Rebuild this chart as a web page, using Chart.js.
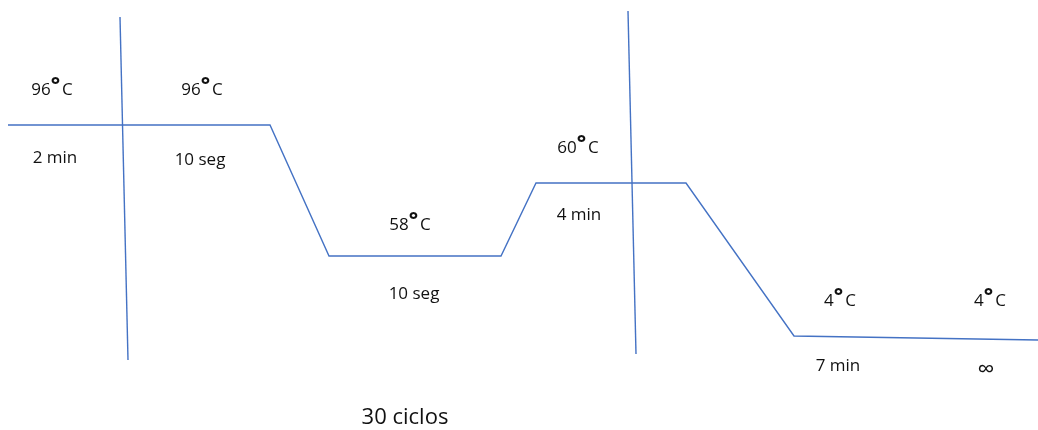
<!DOCTYPE html>
<html lang="es">
<head>
  <meta charset="UTF-8" />
  <title>Perfil de temperatura PCR</title>
  <script src="https://cdn.jsdelivr.net/npm/chart.js"></script>
  <style>
    html, body { margin: 0; padding: 0; background: #fff; }
    canvas { display: block; }
  </style>
</head>
<body>
  <canvas id="pcrChart" width="1038" height="430"></canvas>

  <script>
    // diagram coordinates (x across, y down)
    const profileX = [8, 270, 329, 501, 536, 686, 794, 1038];
    const profileY = [125, 125, 256, 256, 183, 183, 336, 340];

    const cycleStartX = [120, 128];
    const cycleStartY = [17, 360];
    const cycleEndX = [628, 636];
    const cycleEndY = [11, 354];

    const labelText = ["96°C", "96°C", "2 min", "10 seg", "58°C", "10 seg", "60°C", "4 min", "4°C", "4°C", "7 min", "∞", "30 ciclos"];
    const labelX = [52, 202, 55, 200, 410, 414, 578, 579, 840, 990, 838, 986, 405];
    const labelY = [90, 90, 158, 160, 225, 294, 148, 215, 301, 301, 366, 370, 418];
    const labelSize = [17, 17, 17, 17, 17, 17, 17, 17, 17, 17, 17, 24, 22];

    const toPoints = (xs, ys) => xs.map((x, i) => ({ x: x, y: ys[i] }));

    const fontFor = (size, weight) => (weight || "") + " " + size + "px 'Open Sans', 'Liberation Sans', sans-serif";

    // degree ring is drawn bigger and bolder, raised, like the original
    const labelPlugin = {
      id: "stepLabels",
      afterDatasetsDraw(chart) {
        const ctx = chart.ctx;
        const sx = chart.scales.x, sy = chart.scales.y;
        ctx.save();
        ctx.fillStyle = "#111";
        ctx.textBaseline = "middle";
        labelText.forEach((t, i) => {
          const cx = sx.getPixelForValue(labelX[i]);
          const cy = sy.getPixelForValue(labelY[i]);
          const size = labelSize[i];
          const parts = t.split("°");
          if (parts.length === 1) {
            ctx.font = fontFor(size);
            ctx.textAlign = "center";
            ctx.fillText(t, cx, cy);
            return;
          }
          ctx.font = fontFor(size);
          const w0 = ctx.measureText(parts[0]).width;
          const w2 = ctx.measureText(parts[1]).width;
          ctx.font = fontFor(size + 5, "bold");
          const w1 = ctx.measureText("°").width + 2;
          let x = cx - (w0 + w1 + w2) / 2;
          ctx.textAlign = "left";
          ctx.font = fontFor(size);
          ctx.fillText(parts[0], x, cy);
          x += w0;
          ctx.font = fontFor(size + 5, "bold");
          ctx.fillText("°", x, cy - 4);
          x += w1;
          ctx.font = fontFor(size);
          ctx.fillText(parts[1], x, cy);
        });
        ctx.restore();
      }
    };

    const lineStyle = {
      borderColor: "#4472C4",
      borderWidth: 1.4,
      pointRadius: 0,
      fill: false,
      tension: 0
    };

    new Chart(document.getElementById("pcrChart"), {
      type: "line",
      data: {
        datasets: [
          Object.assign({ label: "Perfil", data: toPoints(profileX, profileY) }, lineStyle),
          Object.assign({ label: "Inicio ciclos", data: toPoints(cycleStartX, cycleStartY) }, lineStyle),
          Object.assign({ label: "Fin ciclos", data: toPoints(cycleEndX, cycleEndY) }, lineStyle)
        ]
      },
      options: {
        responsive: false,
        animation: false,
        layout: { padding: 0 },
        plugins: { legend: { display: false }, tooltip: { enabled: false } },
        scales: {
          x: { type: "linear", min: 0, max: 1038, display: false },
          y: { type: "linear", min: 0, max: 430, reverse: true, display: false }
        }
      },
      plugins: [labelPlugin]
    });
  </script>
</body>
</html>
